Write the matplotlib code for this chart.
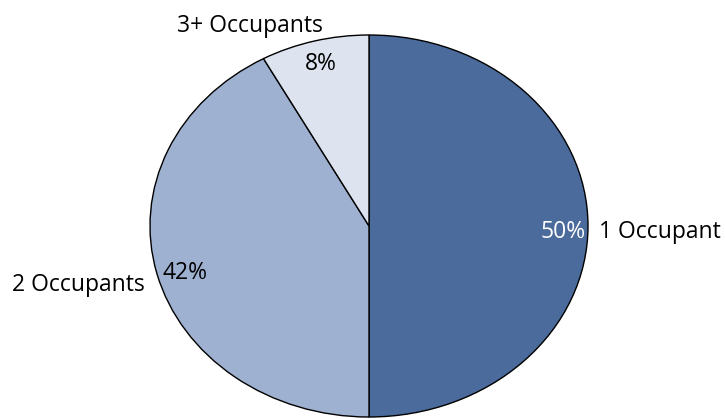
import matplotlib
matplotlib.use("Agg")
import matplotlib.pyplot as plt

labels = ["1 Occupant", "2 Occupants", "3+ Occupants"]
values = [50, 42, 8]
colors = ["#4A6B9B", "#9EB1D0", "#DDE4EF"]
pct_colors = ["white", "black", "black"]

# label placement (axes units of the unit pie), Excel-like
label_pos = [(1.05, -0.063, "left"), (-1.023, -0.340, "right"), (-0.543, 1.016, "center")]
pct_pos = [(0.886, -0.063), (-0.840, -0.277), (-0.219, 0.817)]

plt.rcParams['font.family'] = ['Open Sans', 'DejaVu Sans']

W, H = 725, 419
fig = plt.figure(figsize=(W / 100, H / 100), dpi=100)
cx, cy, rx, ry = 369, 226, 219, 191
ax = fig.add_axes([(cx - rx) / W, (H - cy - ry) / H, 2 * rx / W, 2 * ry / H])

wedges, texts, autotexts = ax.pie(
    values, labels=labels, colors=colors, startangle=90, counterclock=False,
    autopct=lambda p: f"{p:.0f}%",
    wedgeprops=dict(edgecolor="black", linewidth=1.0),
    textprops=dict(fontsize=16.5),
)
ax.set_aspect('auto')
ax.set_xlim(-1, 1)
ax.set_ylim(-1, 1)

for t, c, (x, y) in zip(autotexts, pct_colors, pct_pos):
    t.set_color(c)
    t.set_position((x, y))
    t.set_horizontalalignment("center")
    t.set_verticalalignment("baseline")

for t, (x, y, ha) in zip(texts, label_pos):
    t.set_clip_on(False)
    t.set_color("black")
    t.set_position((x, y))
    t.set_horizontalalignment(ha)
    t.set_verticalalignment("baseline")

fig.savefig("out.png", dpi=100)
